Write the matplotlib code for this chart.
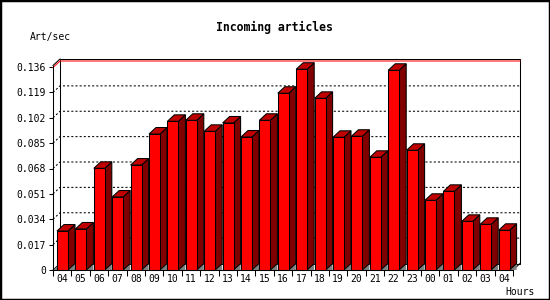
"""Incoming articles per hour, drawn as old-style 3D bars."""

import matplotlib
matplotlib.use("Agg")
import matplotlib.pyplot as plt
from matplotlib.patches import Polygon, Rectangle


HOURS = ["04", "05", "06", "07", "08", "09", "10", "11", "12", "13", "14", "15",
         "16", "17", "18", "19", "20", "21", "22", "23", "00", "01", "02", "03", "04"]
RATES = [0.0261, 0.0275, 0.0681, 0.0489, 0.0703, 0.0911, 0.0996, 0.1003, 0.0929,
         0.0985, 0.0891, 0.1003, 0.1184, 0.1345, 0.1150, 0.0889, 0.0896, 0.0755,
         0.1338, 0.0802, 0.0467, 0.0527, 0.0326, 0.0306, 0.0266]
Y_TICKS = [0, 0.017, 0.034, 0.051, 0.068, 0.085, 0.102, 0.119, 0.136]
Y_MAX = 0.136

W, H = 550, 300
FONT = "DejaVu Sans Mono"

fig = plt.figure(figsize=(W / 100, H / 100), dpi=100)
fig.patch.set_facecolor("white")
ax = fig.add_axes([53 / W, 30 / H, 460 / W, 203 / H])
n = len(RATES)
ax.set_xlim(0, n)
ax.set_ylim(0, Y_MAX)

# pixel -> data conversion for the fake depth
px_x = n / 460
px_y = Y_MAX / 203
dx, dy = 7 * px_x, 6.5 * px_y
lw = 0.75
top_black = Y_MAX + 1.5 * px_y
top_red = Y_MAX - 0.5 * px_y

# back wall with dotted grid
ax.add_patch(Rectangle((dx, dy), n, top_black, facecolor="white", edgecolor="black",
                       lw=lw, clip_on=False, zorder=1))
for v in Y_TICKS[1:-1]:
    ax.plot([0, dx, n + dx], [v, v + dy, v + dy], color="black", lw=lw,
            linestyle=(0, (2, 2)), clip_on=False, zorder=2)
ax.plot([0, dx], [0, dy], color="black", lw=lw, clip_on=False, zorder=2)
ax.plot([0, dx], [top_black, top_black + dy], color="black", lw=lw, clip_on=False, zorder=2)
ax.plot([0, dx, n + dx], [top_red, top_red + dy, top_red + dy],
        color="red", lw=lw, clip_on=False, zorder=2)
ax.plot([n, n + dx], [0, dy], color="black", lw=lw, clip_on=False, zorder=2)
ax.add_patch(Polygon([(0, 0), (dx, dy), (dx, 0)], closed=True, facecolor="#808080",
                     edgecolor="none", clip_on=False, zorder=2))

# bars
off, width = 4 * px_x, 11 * px_x
for i, val in enumerate(RATES):
    left = i + off
    right = left + width
    z = 3 + i * 0.01
    ax.add_patch(Polygon([(right, 0), (right + dx, dy), (right + dx, 0)], closed=True,
                         facecolor="#808080", edgecolor="none", clip_on=False, zorder=z))
    ax.add_patch(Polygon([(right, 0), (right + dx, dy), (right + dx, val + dy), (right, val)],
                         closed=True, facecolor="#800000", edgecolor="black", lw=lw,
                         clip_on=False, zorder=z))
    ax.add_patch(Polygon([(left, val), (left + dx, val + dy), (right + dx, val + dy), (right, val)],
                         closed=True, facecolor="#c00000", edgecolor="black", lw=lw,
                         clip_on=False, zorder=z))
    ax.add_patch(Rectangle((left, 0), width, val, facecolor="#ff0000", edgecolor="black",
                           lw=lw, clip_on=False, zorder=z))

# axes, ticks and labels
for side in ("top", "right"):
    ax.spines[side].set_visible(False)
for side in ("left", "bottom"):
    ax.spines[side].set_linewidth(lw)
    ax.spines[side].set_zorder(5)
ax.spines["left"].set_bounds(0, top_black)
ax.patch.set_visible(False)
ax.set_yticks(Y_TICKS)
ax.set_yticklabels([f"{v:g}" for v in Y_TICKS], fontfamily=FONT, fontsize=7)
ax.set_xticks(range(n + 1))
ax.set_xticklabels([])
ax.set_xticks([i + 0.5 for i in range(n)], minor=True)
ax.set_xticklabels(HOURS, minor=True, fontfamily=FONT, fontsize=7)
ax.tick_params(axis="y", length=3, width=lw, pad=2)
ax.tick_params(axis="x", which="major", length=4, width=lw)
ax.tick_params(axis="x", which="minor", length=0, pad=3)

fig.text(274 / W, 1 - 27 / H, "Incoming articles", ha="center", va="center",
         fontfamily=FONT, fontsize=8.3, fontweight="bold")
fig.text(30 / W, 1 - 37 / H, "Art/sec", ha="left", va="center", fontfamily=FONT, fontsize=7)
fig.text(520 / W, 1 - 292 / H, "Hours", ha="center", va="center", fontfamily=FONT, fontsize=7)

fig.add_artist(Rectangle((0, 0), 1, 1, transform=fig.transFigure, fill=False,
                         edgecolor="black", lw=2.5))

fig.savefig("out.png", dpi=100)
